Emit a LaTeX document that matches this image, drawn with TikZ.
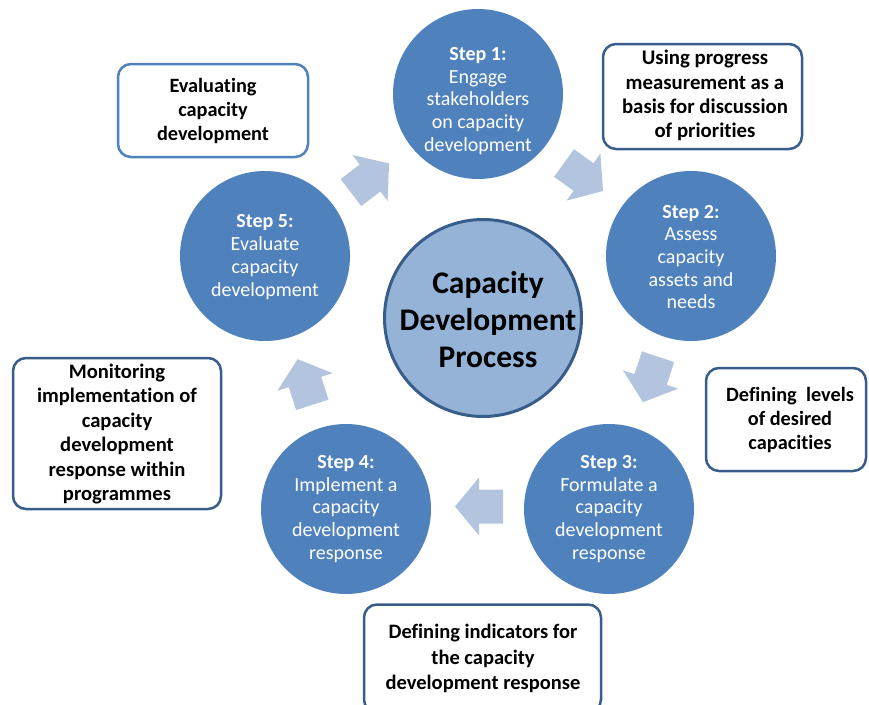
\documentclass[tikz,border=0pt]{standalone}
\usepackage{fontspec}
\setmainfont{Carlito}[RawFeature={-liga;-clig}]
\definecolor{stepblue}{HTML}{4F81BD}
\definecolor{arrowblue}{HTML}{B3C4DE}
\definecolor{centerfill}{HTML}{95B3D7}
\definecolor{darkedge}{HTML}{385D8A}
\definecolor{lightedge}{HTML}{4F81BD}
\begin{document}
\begin{tikzpicture}[x=1pt,y=-1pt,
  stepcircle/.style={circle, fill=stepblue, minimum size=170pt, inner sep=0pt},
  steptext/.style={text=white, align=center, font=\fontsize{20}{22.7}\selectfont, inner sep=0pt},
  notebox/.style={draw=darkedge, line width=2.5pt, rounded corners=13pt, fill=white, inner sep=0pt},
  boxtext/.style={align=center, font=\bfseries\fontsize{20.3}{24.4}\selectfont, inner sep=0pt},
  blockarrow/.style={fill=arrowblue}
]
\useasboundingbox (0,0) rectangle (869,704);
\clip (0,0) rectangle (869,704);

% step circles
\node[stepcircle] (s1) at (478,94) {};
\node[stepcircle] (s2) at (691,256) {};
\node[stepcircle] (s3) at (609,509) {};
\node[stepcircle] (s4) at (346,509) {};
\node[stepcircle] (s5) at (265,256) {};

\node[steptext] (t1) at (478,101) {\textbf{Step 1:}\\Engage\\stakeholders\\on capacity\\development};
\node[steptext] (t2) at (691,257) {\textbf{Step 2:}\\Assess\\capacity\\assets and\\needs};
\node[steptext] (t3) at (609,509) {\textbf{Step 3:}\\Formulate a\\capacity\\development\\response};
\node[steptext] (t4) at (346,509) {\textbf{Step 4:}\\Implement a\\capacity\\development\\response};
\node[steptext] (t5) at (265,257) {\textbf{Step 5:}\\Evaluate\\capacity\\development};

% centre circle
\node[circle, draw=darkedge, line width=3pt, fill=centerfill, minimum size=197pt, inner sep=0pt] (c) at (483,318) {};
\node[align=center, inner sep=0pt, font=\bfseries\fontsize{31.5}{37}\selectfont] (ct) at (488,320) {Capacity\\Development\\Process};

% block arrows
\foreach \x/\y/\a in {583.5/177/-35.7, 650.5/379.5/-108.4, 479/506.5/180, 305/382/107.7, 370/178/37.4}
  \fill[blockarrow, shift={(\x,\y)}, rotate=\a] (-24,-17) -- (0,-17) -- (0,-29) -- (24,0) -- (0,29) -- (0,17) -- (-24,17) -- cycle;

% note boxes
\node[notebox, draw=lightedge, minimum width=190pt, minimum height=93pt] (b1) at (213,110.5) {};
\node[boxtext] (b1t) at (213,111) {Evaluating\\capacity\\development};

\node[notebox, minimum width=199pt, minimum height=105pt] (b2) at (702.5,96.5) {};
\node[boxtext, font=\bfseries\fontsize{20.8}{24.3}\selectfont] (b2t) at (705,95.5) {Using progress\\measurement as a\\basis for discussion\\of priorities};

\node[notebox, minimum width=160pt, minimum height=103pt] (b3) at (786,419.5) {};
\node[boxtext] (b3t) at (790,420) {Defining\ \ levels\\of desired\\capacities};

\node[notebox, minimum width=208pt, minimum height=151pt] (b4) at (117,433.5) {};
\node[boxtext, font=\bfseries\fontsize{20.6}{24.4}\selectfont] (b4t) at (117,434) {Monitoring\\implementation of\\capacity\\development\\response within\\programmes};

\node[notebox, minimum width=237pt, minimum height=108pt] (b5) at (482.5,658.5) {};
\node[boxtext, font=\bfseries\fontsize{20.5}{25.5}\selectfont] (b5t) at (483,658.5) {Defining indicators for\\the capacity\\development response};
\end{tikzpicture}
\end{document}
